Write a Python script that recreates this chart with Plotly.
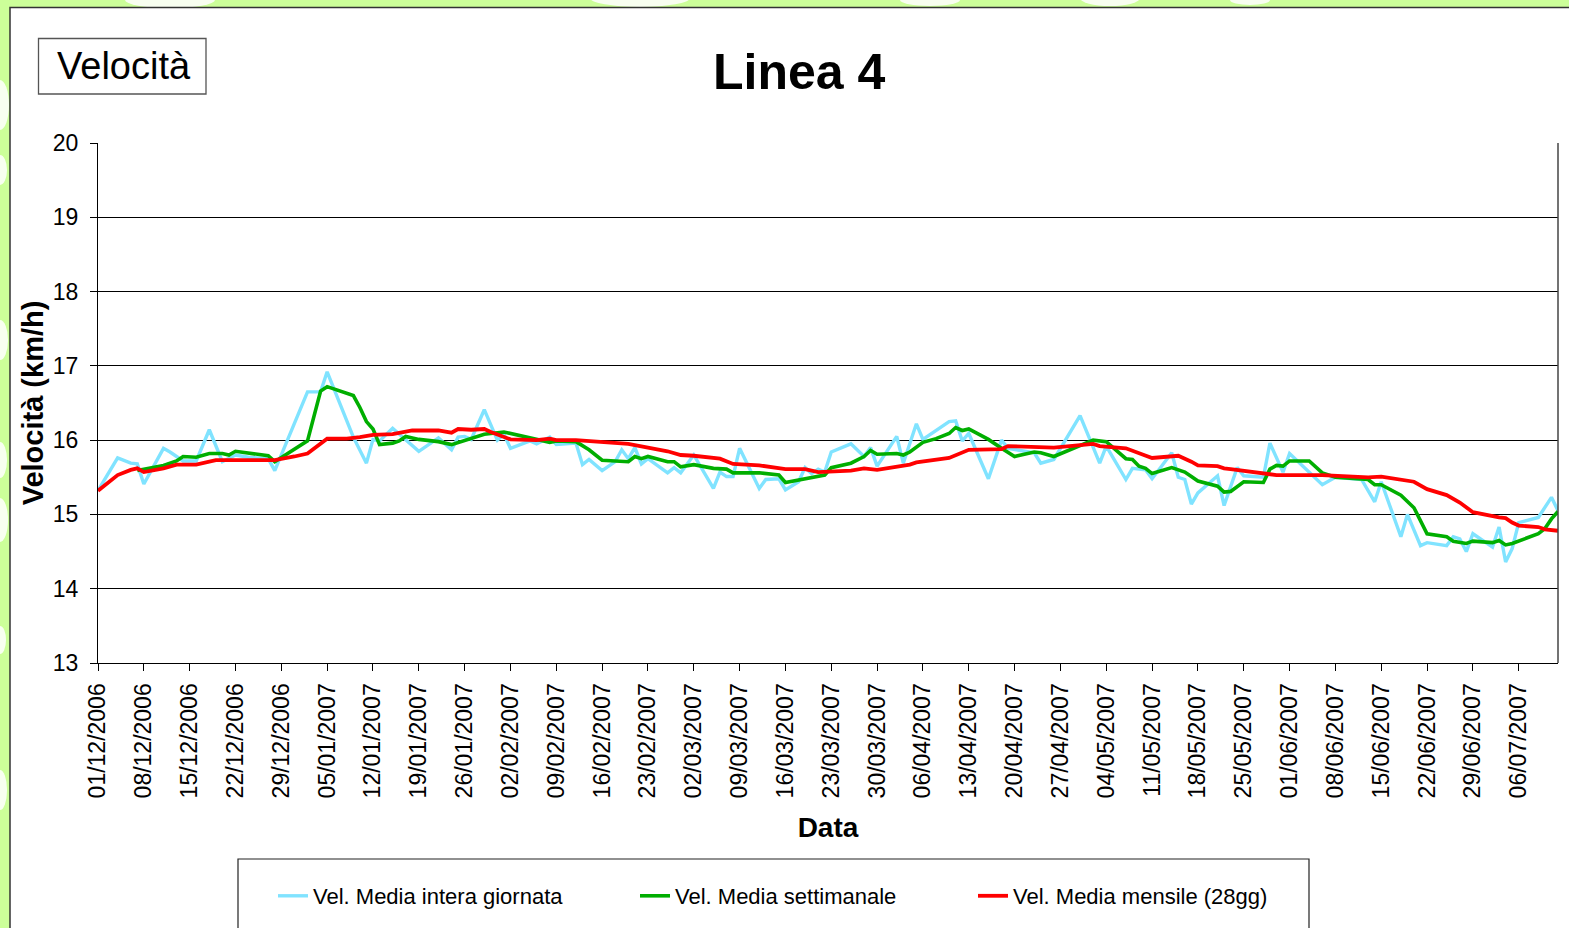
import datetime as dt
import plotly.graph_objects as go

# ---------------- data ----------------
START_DATE = dt.date(2006, 12, 1)
END_DAY = 223  # last day shown (12/07/2007), as days since START_DATE

# Vel. Media intera giornata (daily)  -- days since 01/12/2006, km/h
blue_day = [0, 3, 5, 6, 7, 10, 11, 13, 15, 17, 19, 21, 23, 26, 27, 32, 34, 35, 39, 41, 42, 43, 45, 47, 49,
            52, 54, 55, 56, 57, 59, 61, 62, 63, 66, 67, 69, 70, 73, 74, 75, 77, 79, 80, 81, 82, 83, 84, 87,
            88, 89, 91, 94, 95, 96, 97, 98, 101, 102, 104, 105, 107, 108, 109, 110, 111, 112, 115, 117, 118,
            119, 122, 123, 125, 126, 130, 131, 132, 133, 136, 138, 139, 143, 144, 146, 150, 153, 154, 157,
            158, 160, 161, 164, 165, 166, 167, 168, 171, 172, 174, 175, 178, 179, 181, 182, 187, 189, 193,
            195, 196, 199, 200, 202, 203, 206, 207, 208, 209, 210, 213, 214, 215, 216, 217, 220, 222, 223]
blue_val = [15.32, 15.76, 15.69, 15.68, 15.41, 15.89, 15.84, 15.72, 15.72, 16.14, 15.71, 15.80, 15.77, 15.75,
            15.59, 16.65, 16.65, 16.92, 16.04, 15.69, 16.01, 15.99, 16.16, 16.01, 15.85, 16.03, 15.87, 16.04,
            16.05, 16.01, 16.41, 16.00, 16.08, 15.89, 15.99, 15.95, 16.04, 15.94, 15.96, 15.67, 15.74, 15.59,
            15.71, 15.87, 15.75, 15.90, 15.68, 15.75, 15.56, 15.63, 15.56, 15.80, 15.35, 15.57, 15.51, 15.51,
            15.89, 15.35, 15.47, 15.48, 15.33, 15.44, 15.63, 15.55, 15.61, 15.57, 15.84, 15.95, 15.78, 15.90,
            15.65, 16.05, 15.69, 16.22, 16.01, 16.25, 16.26, 15.99, 16.09, 15.48, 16.00, 15.89, 15.83, 15.69,
            15.74, 16.33, 15.69, 15.92, 15.47, 15.62, 15.60, 15.48, 15.83, 15.50, 15.47, 15.14, 15.29, 15.52,
            15.12, 15.63, 15.52, 15.50, 15.96, 15.57, 15.82, 15.40, 15.50, 15.47, 15.17, 15.44, 14.70, 15.00,
            14.58, 14.62, 14.58, 14.70, 14.67, 14.50, 14.74, 14.56, 14.83, 14.36, 14.54, 14.89, 14.96, 15.23,
            15.05]

# Vel. Media settimanale (weekly)
green_day = [6, 10, 12, 13, 15, 17, 19, 20, 21, 26, 27, 32, 34, 35, 39, 40, 41, 42, 43, 45, 46, 47, 49, 52,
             54, 56, 59, 62, 64, 69, 70, 73, 75, 77, 81, 82, 83, 84, 87, 88, 89, 91, 94, 96, 97, 101, 104,
             105, 111, 112, 115, 117, 118, 119, 122, 123, 124, 126, 128, 130, 131, 132, 133, 136, 138, 140,
             143, 144, 146, 150, 152, 154, 157, 158, 159, 160, 161, 164, 166, 167, 168, 171, 172, 173, 175,
             178, 179, 180, 181, 182, 185, 187, 189, 194, 195, 196, 199, 201, 202, 203, 206, 207, 209, 210,
             213, 214, 215, 216, 220, 221, 222, 223]
green_val = [15.59, 15.66, 15.72, 15.78, 15.77, 15.82, 15.82, 15.80, 15.85, 15.79, 15.71, 15.99, 16.66, 16.72,
             16.60, 16.44, 16.25, 16.15, 15.94, 15.96, 15.99, 16.05, 16.01, 15.98, 15.94, 16.00, 16.08, 16.11,
             16.07, 15.97, 15.99, 15.98, 15.87, 15.73, 15.71, 15.78, 15.75, 15.78, 15.71, 15.71, 15.64, 15.67,
             15.62, 15.61, 15.56, 15.56, 15.53, 15.43, 15.53, 15.63, 15.69, 15.78, 15.86, 15.81, 15.82, 15.80,
             15.84, 15.97, 16.02, 16.09, 16.17, 16.13, 16.15, 16.01, 15.89, 15.78, 15.84, 15.83, 15.78, 15.92,
             16.00, 15.98, 15.75, 15.74, 15.65, 15.62, 15.55, 15.63, 15.57, 15.51, 15.45, 15.38, 15.30, 15.31,
             15.44, 15.43, 15.61, 15.66, 15.65, 15.72, 15.72, 15.56, 15.50, 15.47, 15.40, 15.40, 15.26, 15.09,
             14.92, 14.74, 14.70, 14.64, 14.61, 14.64, 14.62, 14.65, 14.59, 14.61, 14.74, 14.81, 14.94, 15.04]

# Vel. Media mensile (28gg) (monthly)
red_day = [0, 3, 5, 6, 7, 10, 12, 15, 18, 27, 30, 32, 35, 38, 40, 42, 45, 48, 52, 54, 55, 57, 59, 60, 63, 67,
           69, 70, 73, 76, 81, 87, 89, 91, 95, 97, 101, 105, 108, 110, 115, 117, 119, 124, 125, 130, 133,
           138, 139, 146, 152, 153, 157, 161, 165, 167, 168, 171, 172, 173, 178, 180, 187, 194, 196, 199,
           201, 203, 206, 208, 210, 214, 215, 216, 217, 220, 221, 223]
red_val = [15.32, 15.53, 15.60, 15.62, 15.57, 15.62, 15.67, 15.67, 15.73, 15.73, 15.78, 15.82, 16.02, 16.02,
           16.04, 16.07, 16.08, 16.13, 16.13, 16.10, 16.15, 16.14, 16.15, 16.11, 16.01, 16.00, 16.02, 16.00,
           16.00, 15.98, 15.95, 15.85, 15.80, 15.79, 15.75, 15.68, 15.66, 15.61, 15.61, 15.57, 15.59, 15.62,
           15.60, 15.67, 15.70, 15.76, 15.87, 15.88, 15.92, 15.90, 15.95, 15.92, 15.89, 15.76, 15.79, 15.71,
           15.66, 15.65, 15.62, 15.61, 15.55, 15.53, 15.53, 15.50, 15.51, 15.47, 15.44, 15.34, 15.26, 15.16,
           15.03, 14.96, 14.95, 14.89, 14.85, 14.83, 14.80, 14.78]

series_names = ["Vel. Media intera giornata", "Vel. Media settimanale", "Vel. Media mensile (28gg)"]
series_colors = ["#80E3FF", "#00AE00", "#FF0000"]
y_ticks = [13, 14, 15, 16, 17, 18, 19, 20]
x_tick_step_days = 7

# ---------------- helpers ----------------
def to_dates(days):
    return [START_DATE + dt.timedelta(days=d) for d in days]

W, H = 1569, 928
L, R, T, B = 98, 1558, 143, 663  # plot area in page pixels


def px_x(px):
    return (px - L) / (R - L)


def px_y(py):
    return (B - py) / (B - T)


FONT = "Liberation Sans, Arial, sans-serif"

fig = go.Figure()
legend_ids = ["legend", "legend2", "legend3"]
for (days, vals), name, color, lid, width in zip(
        [(blue_day, blue_val), (green_day, green_val), (red_day, red_val)],
        series_names, series_colors, legend_ids, [3.4, 3.6, 3.8]):
    fig.add_trace(go.Scatter(x=to_dates(days), y=vals, mode="lines", name=name,
                             line=dict(color=color, width=width), legend=lid))

tickvals = [START_DATE + dt.timedelta(days=d) for d in range(0, END_DAY, x_tick_step_days)]

shapes = []
# decorative white blobs on green background
for (cx, cy, rx, ry) in [(170, 0, 45, 8), (640, -2, 50, 9), (930, 0, 30, 6), (1110, -2, 30, 8),
                         (1250, 0, 20, 5), (0, 105, 9, 25), (0, 170, 7, 15), (0, 340, 8, 20),
                         (0, 460, 7, 18), (0, 520, 8, 22), (0, 790, 7, 20), (0, 640, 6, 14)]:
    shapes.append(dict(type="circle", xref="paper", yref="paper", layer="below",
                       x0=px_x(cx - rx), x1=px_x(cx + rx), y0=px_y(cy + ry), y1=px_y(cy - ry),
                       fillcolor="rgba(255,255,255,0.85)", line=dict(width=0)))
# white panel
shapes.append(dict(type="rect", xref="paper", yref="paper", layer="below",
                   x0=px_x(10), x1=px_x(1600), y0=px_y(960), y1=px_y(7.5),
                   fillcolor="white", line=dict(color="#333333", width=1.5)))
# "Velocità" box
shapes.append(dict(type="rect", xref="paper", yref="paper",
                   x0=px_x(38.5), x1=px_x(206), y0=px_y(94), y1=px_y(38.5),
                   line=dict(color="#555555", width=1.3)))
# legend box
shapes.append(dict(type="rect", xref="paper", yref="paper",
                   x0=px_x(238), x1=px_x(1309), y0=px_y(960), y1=px_y(859),
                   line=dict(color="#222222", width=1.2)))
# right border of plot area
shapes.append(dict(type="line", xref="paper", yref="paper", x0=1, x1=1, y0=0, y1=1,
                   line=dict(color="#444444", width=1.5)))

annotations = [
    dict(text="<b>Linea 4</b>", x=px_x(798.5), y=px_y(72), xref="paper", yref="paper",
         showarrow=False, xanchor="center", yanchor="middle",
         font=dict(family=FONT, size=50, color="black")),
    dict(text="Velocità", x=px_x(123.5), y=px_y(66), xref="paper", yref="paper",
         showarrow=False, xanchor="center", yanchor="middle",
         font=dict(family=FONT, size=38, color="black")),
]

legend_common = dict(orientation="h", yanchor="middle", xanchor="left", y=px_y(896),
                     bgcolor="rgba(0,0,0,0)", borderwidth=0,
                     font=dict(family=FONT, size=22, color="black"))

fig.update_layout(
    width=W, height=H, autosize=False,
    margin=dict(l=L, r=W - R, t=T, b=H - B, pad=0),
    paper_bgcolor="#CCFF99", plot_bgcolor="white",
    font=dict(family=FONT, color="black"),
    showlegend=True,
    legend=dict(x=px_x(273), **legend_common),
    legend2=dict(x=px_x(635), **legend_common),
    legend3=dict(x=px_x(973), **legend_common),
    shapes=shapes, annotations=annotations,
    xaxis=dict(type="date", range=[START_DATE, START_DATE + dt.timedelta(days=END_DAY)],
               tickvals=tickvals, tickformat="%d/%m/%Y", tickangle=-90,
               ticks="outside", ticklen=7, tickcolor="black", tickwidth=1,
               ticklabelstandoff=3,
               showline=True, linecolor="black", linewidth=1.2, mirror=False,
               showgrid=False, zeroline=False,
               tickfont=dict(family=FONT, size=23, color="black"),
               title=dict(text="<b>Data</b>", font=dict(family=FONT, size=28, color="black"),
                          standoff=19)),
    yaxis=dict(range=[13, 20], tickvals=y_ticks, ticks="outside", ticklen=7, tickcolor="black",
               ticklabelstandoff=7,
               showline=True, linecolor="black", linewidth=1.2,
               showgrid=True, gridcolor="black", gridwidth=1, zeroline=False,
               tickfont=dict(family=FONT, size=23, color="black"),
               title=dict(text="<b>Velocità (km/h)</b>", font=dict(family=FONT, size=29, color="black"),
                          standoff=0)),
)

# the page body has a default 8px margin; remove it so the figure fills the window exactly
fig.write_html("out.html", config={"displayModeBar": False},
               post_script="document.body.style.margin='0';")
